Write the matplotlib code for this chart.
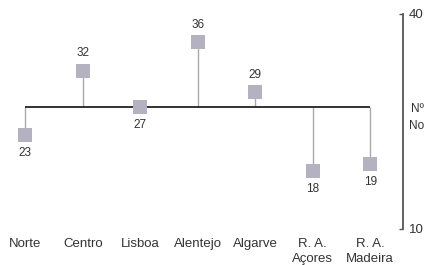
import matplotlib.pyplot as plt

plt.rcParams['font.family'] = ['Liberation Sans', 'DejaVu Sans']

# data
regions = ["Norte", "Centro", "Lisboa", "Alentejo", "Algarve", "R. A.\nAçores", "R. A.\nMadeira"]
values = [23, 32, 27, 36, 29, 18, 19]
baseline = 27
y_ticks = [10, 40]

fig = plt.figure(figsize=(4.28, 2.65), dpi=100)
ax = fig.add_axes([0.0, 1 - 228.5 / 265, 403 / 428, 215 / 265])

x = list(range(len(regions)))

# horizontal reference line and stems
ax.hlines(baseline, x[0], x[-1], color="#222222", lw=1.3, zorder=2)
ax.vlines(x, baseline, values, color="#aaaaaa", lw=1.0, zorder=1)
ax.scatter(x, values, marker="s", s=90, color="#b4b1c0", linewidths=0, zorder=3)

for xi, v in zip(x, values):
    off = 12.5 if v > baseline else -13
    ax.annotate(str(v), (xi, v), xytext=(0, off), textcoords="offset points",
                ha="center", va="center", fontsize=8.5, color="#333333")

ax.set_xlim(-0.44, 6.57)
ax.set_ylim(10, 40)

for side in ["top", "left", "bottom"]:
    ax.spines[side].set_visible(False)
ax.spines["right"].set_color("#555555")
ax.spines["right"].set_linewidth(1.3)

ax.yaxis.tick_right()
ax.set_yticks(y_ticks)
ax.tick_params(axis="y", direction="in", length=3, width=1, color="#555555",
               labelsize=9.5, labelcolor="#333333", pad=4)

ax.set_xticks(x)
ax.set_xticklabels(regions, fontsize=9.5, color="#333333", linespacing=1.4)
ax.tick_params(axis="x", length=0, pad=6.5)

fig.text(417 / 428, 1 - 117.5 / 265, "Nº\nNo", ha="center", va="center",
         fontsize=8.5, color="#333333", linespacing=1.5)

fig.savefig("out.png", dpi=100)
